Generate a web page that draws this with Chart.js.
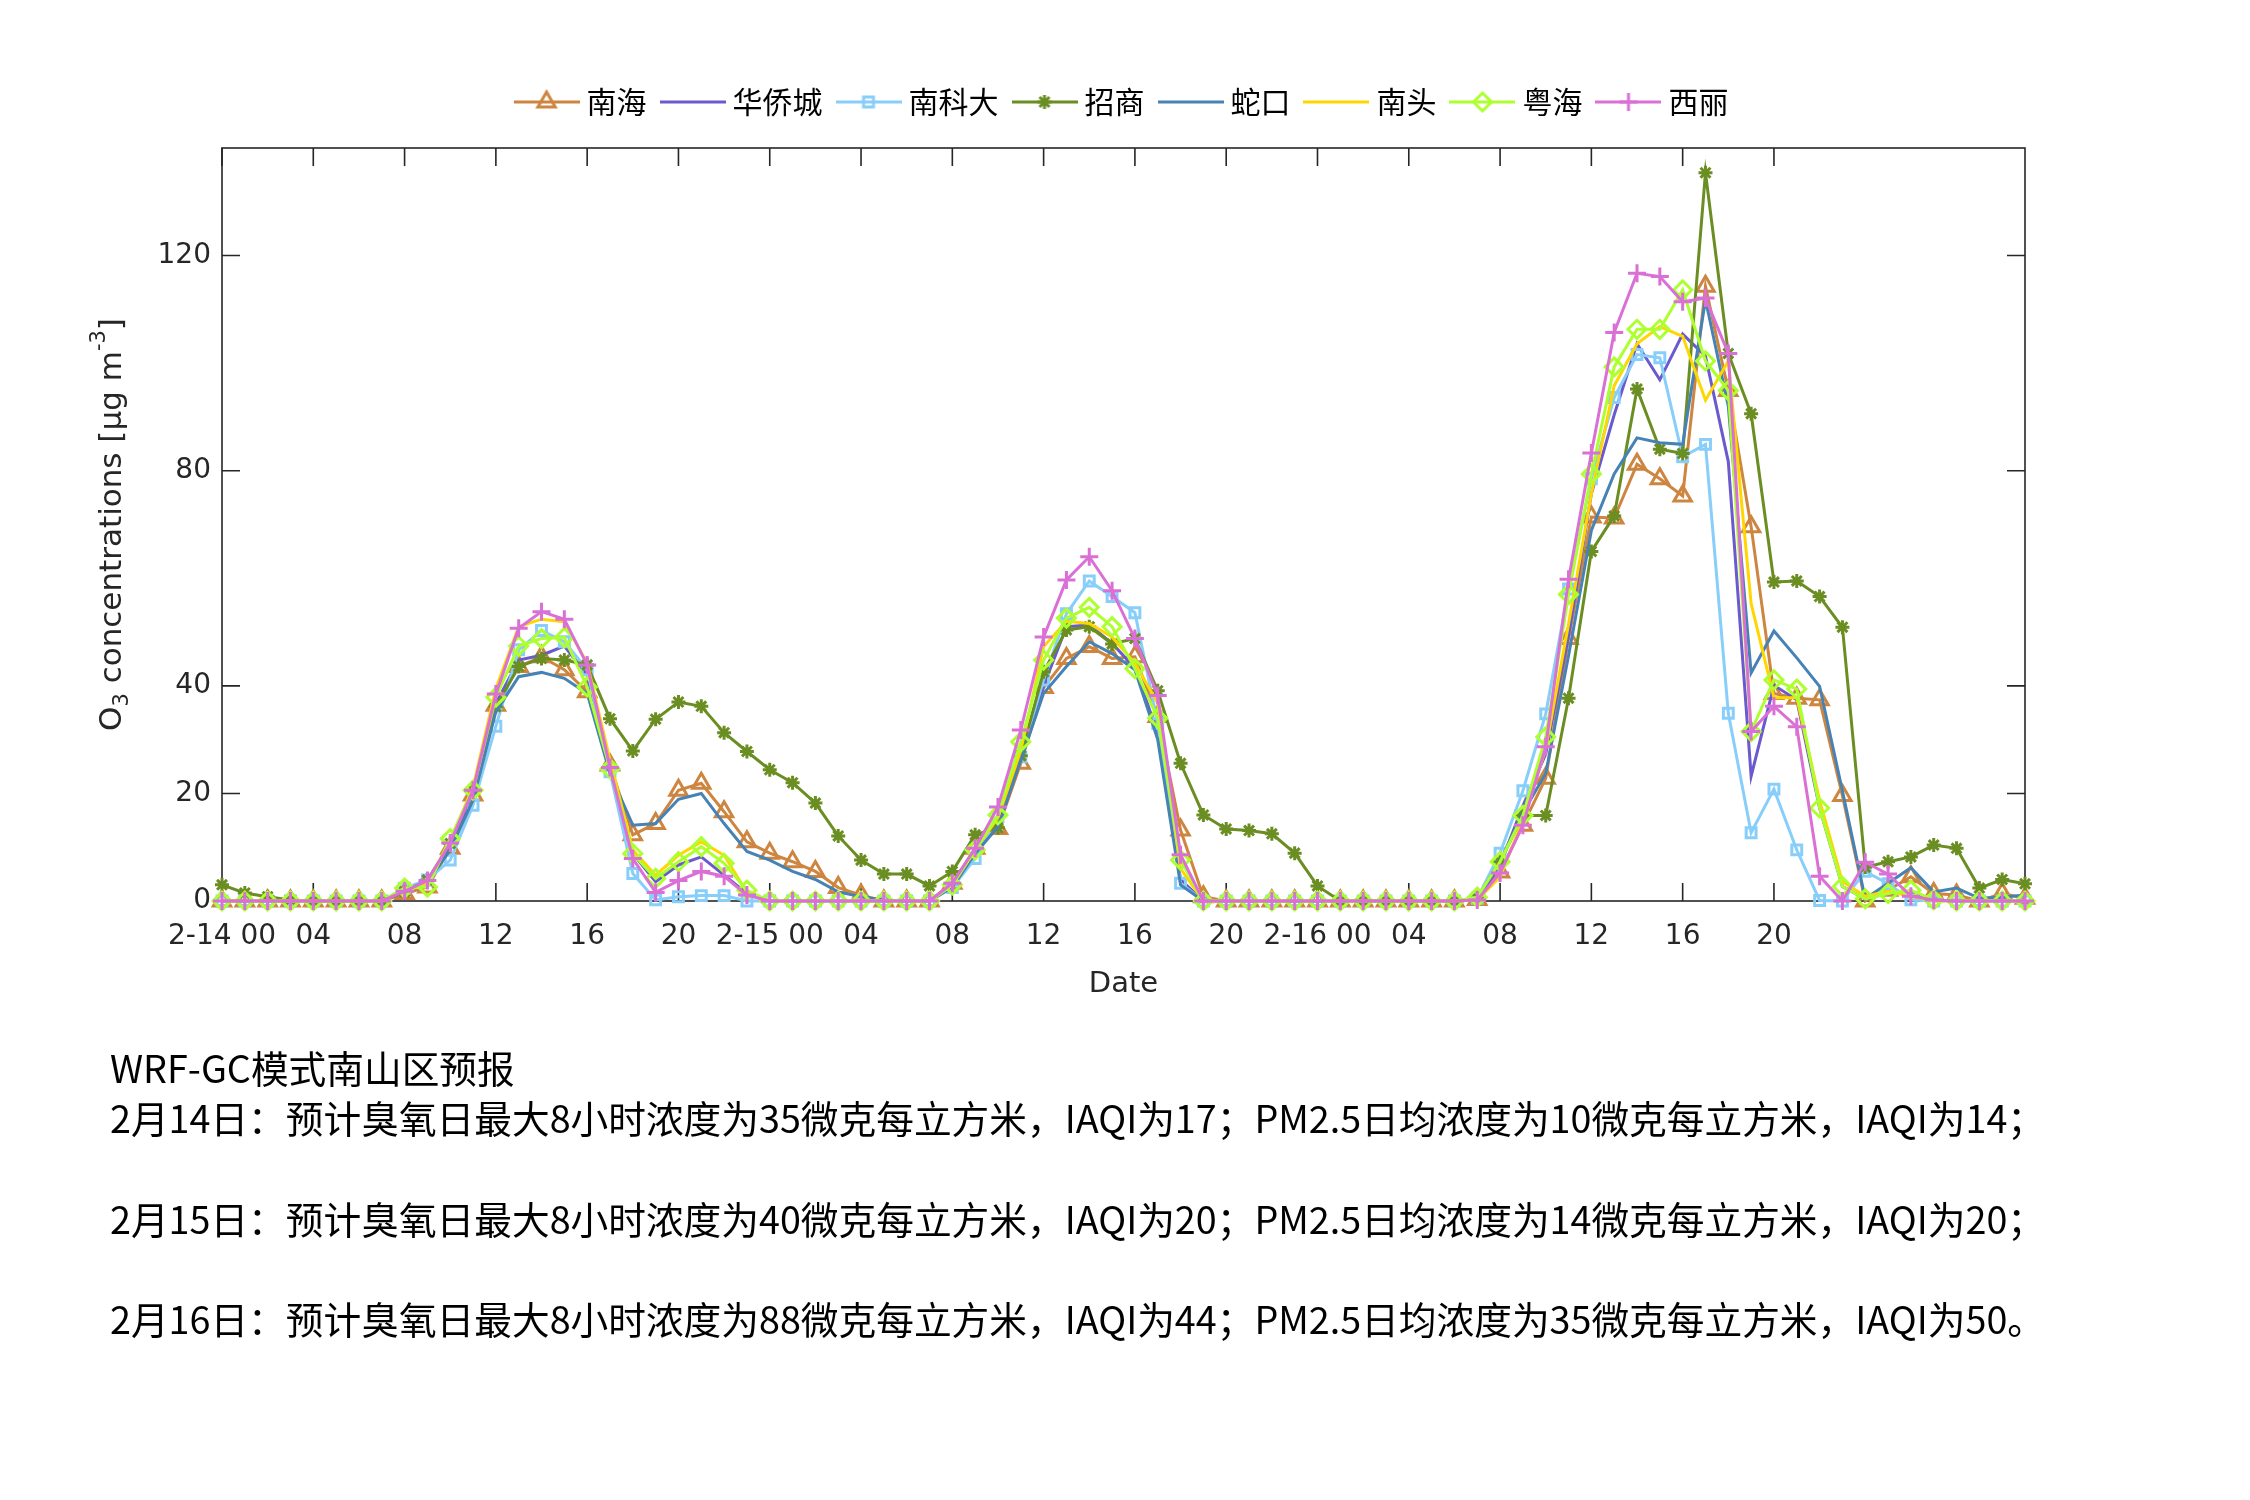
<!DOCTYPE html>
<html><head><meta charset="utf-8">
<script src="https://cdn.jsdelivr.net/npm/chart.js@4.4.0/dist/chart.umd.min.js"></script>
<style>
html,body{margin:0;padding:0;background:#fff;}
#wrap{position:relative;width:2250px;height:1500px;background:#fff;}
#c{position:absolute;left:0;top:0;}
#note{position:absolute;left:110px;top:1042px;font-family:'Noto Sans CJK SC';font-size:37.7px;line-height:50.3px;color:#000;white-space:pre;}
</style></head><body>
<div id="wrap"><canvas id="c" width="2250" height="1500"></canvas>
<div id="note">WRF-GC模式南山区预报
2月14日：预计臭氧日最大8小时浓度为35微克每立方米，IAQI为17；PM2.5日均浓度为10微克每立方米，IAQI为14；

2月15日：预计臭氧日最大8小时浓度为40微克每立方米，IAQI为20；PM2.5日均浓度为14微克每立方米，IAQI为20；

2月16日：预计臭氧日最大8小时浓度为88微克每立方米，IAQI为44；PM2.5日均浓度为35微克每立方米，IAQI为50。</div></div>
<script>
// ---- data ----
const hours = [0,1,2,3,4,5,6,7,8,9,10,11,12,13,14,15,16,17,18,19,20,21,22,23,
  24,25,26,27,28,29,30,31,32,33,34,35,36,37,38,39,40,41,42,43,44,45,46,47,
  48,49,50,51,52,53,54,55,56,57,58,59,60,61,62,63,64,65,66,67,68,69,70,71,
  72,73,74,75,76,77,78,79];
const xTickVals = [0,4,8,12,16,20,24,28,32,36,40,44,48,52,56,60,64,68];
const xTickLabels = ['2-14 00','04','08','12','16','20','2-15 00','04','08','12','16','20','2-16 00','04','08','12','16','20'];
const yTickVals = [0,20,40,80,120];
const seriesNames = ['南海','华侨城','南科大','招商','蛇口','南头','粤海','西丽'];

const nanhai = [0,0,0,0,0,0,0,0,
  1.4,2.6,9.8,19.7,36.4,43.6,45.4,43.0,
  38.9,25.3,12.3,14.4,20.6,21.9,16.6,11.0,
  8.9,7.3,5.5,2.5,1.1,0,0,0,
  3.3,9.8,13.5,25.6,39.7,45.1,47.3,45.1,
  45.4,34.3,13.2,0.8,0,0,0,0,
  0,0,0,0,0,0,0,0.3,
  5.4,14.1,22.8,48.8,71.4,71.2,81.2,78.5,
  75.3,114.3,94.9,69.6,38.6,37.7,37.4,19.6,
  0,2.0,4.5,1.4,1.1,0,1.4,0.5];
const huaqiaocheng = [0,0,0,0,0,0,0,0,
  1.7,3.6,10.4,20.0,36.7,44.8,45.7,47.4,
  42.0,25.0,8.8,3.6,6.7,8.2,4.8,1.4,
  0,0,0,0,0,0,0,0,
  3.0,9.0,15.0,27.5,40.0,51.0,51.3,47.9,
  43.3,31.2,4.0,0,0,0,0,0,
  0,0,0,0,0,0,0,0.3,
  6.7,17.7,27.3,49.3,75.7,90.4,103.6,96.9,
  105.4,101.3,81.7,23.2,40.1,37.4,17.3,2.7,
  0.4,1.5,1.5,0.2,0,0,0,0];
const nankeda = [0,0,0,0,0,0,0,0,
  2.4,3.9,7.6,17.8,32.5,46.7,50.3,48.2,
  43.0,24.0,5.1,0.2,0.8,1.0,1.0,0,
  0,0,0,0,0,0,0,0,
  2.5,7.9,15.7,26.8,41.1,53.4,59.5,56.6,
  53.6,33.0,3.3,0,0,0,0,0,
  0,0,0,0,0,0,0,0.5,
  8.9,20.5,34.8,58.0,78.5,93.6,101.6,101.0,
  82.6,84.9,34.9,12.7,20.8,9.5,0.1,0,
  5.5,3.2,0.2,0,0,0,0,0];
const zhaoshang = [3.0,1.5,0.8,0.2,0,0,0,0,
  1.7,3.9,10.7,20.6,36.1,43.6,45.1,44.8,
  43.9,33.9,27.9,33.8,37.0,36.2,31.3,27.8,
  24.4,22.0,18.2,12.1,7.6,5.0,5.0,2.8,
  5.5,12.3,13.6,27.0,42.6,50.4,51.0,47.8,
  48.8,39.1,25.6,16.0,13.4,13.1,12.5,8.9,
  2.8,0,0,0,0,0,0,0.5,
  7.3,15.9,15.9,37.7,65.0,71.6,95.2,84.0,
  83.2,135.4,101.8,90.6,59.3,59.5,56.6,50.9,
  6.3,7.3,8.2,10.4,9.8,2.4,4.0,3.2];
const shekou = [0,0,0,0,0,0,0,0,
  2.0,3.6,9.5,18.8,35.2,41.7,42.5,41.4,
  38.6,23.7,14.1,14.4,18.9,20.0,14.4,9.2,
  7.6,5.5,4.0,1.7,0.8,0.2,0,0,
  2.6,8.8,13.8,26.2,38.6,43.6,48.2,46.0,
  43.0,30.0,3.0,0,0,0,0,0,
  0,0,0,0,0,0,0,0.5,
  7.3,16.4,23.7,45.6,68.9,79.4,86.1,85.2,
  84.9,111.8,92.0,42.4,50.2,45.2,39.9,20.5,
  0.4,3.3,6.2,1.7,2.4,0.5,0.7,1.1];
const nantou = [0,0,0,0,0,0,0,0,
  2.0,3.3,11.3,21.2,39.5,51.0,52.4,51.9,
  44.2,26.2,9.5,4.8,8.5,11.0,8.5,1.6,
  0,0,0,0,0,0,0,0,
  3.0,9.5,15.5,28.0,47.3,52.0,51.6,49.1,
  44.2,36.8,6.0,0,0,0,0,0,
  0,0,0,0,0,0,0,0.2,
  4.5,15.0,28.3,51.5,75.7,95.8,103.6,106.8,
  105.0,93.1,100.4,55.3,37.8,37.8,18.7,3.6,
  0.9,1.8,0.9,0,0,0,0,0];
const yuehai = [0,0,0,0,0,0,0,0,
  2.4,2.6,11.6,20.6,37.9,47.4,48.8,49.0,
  39.8,24.6,8.8,4.2,7.3,10.1,7.0,2.0,
  0,0,0,0,0,0,0,0,
  3.0,9.5,16.0,29.6,44.8,52.6,54.6,51.0,
  43.2,34.0,7.6,0,0,0,0,0,
  0,0,0,0,0,0,0,0.7,
  7.3,15.9,30.5,57.0,79.4,99.3,106.3,106.3,
  113.6,100.4,94.9,31.5,41.1,39.4,17.3,2.7,
  0.4,1.4,2.0,0.2,0,0,0,0];
const xili = [0,0,0,0,0,0,0,0,
  1.8,3.8,10.8,20.6,38.5,50.7,53.8,52.4,
  43.9,24.8,7.9,1.6,3.8,5.5,4.6,1.1,
  0,0,0,0,0,0,0,0,
  3.3,9.8,17.5,31.8,49.1,59.7,64.0,57.7,
  48.8,38.2,8.6,0,0,0,0,0,
  0,0,0,0,0,0,0,0.2,
  5.2,14.1,28.7,59.8,83.3,105.7,116.7,116.1,
  111.4,112.1,101.8,31.5,36.2,32.4,4.6,0,
  7.2,5.0,0.9,0.2,0,0,0,0];

const seriesValues = [nanhai, huaqiaocheng, nankeda, zhaoshang, shekou, nantou, yuehai, xili];
const seriesColors = ['#CD853F','#6A5ACD','#87CEFA','#6B8E23','#4682B4','#FFD700','#ADFF2F','#DA70D6'];
const seriesMarkers = ['triangle',false,'rect','star',false,false,'rectRot','cross'];
const markerRadius = {triangle:10, rect:7, star:7, rectRot:9, cross:9};

function drawMarker(g, style, x, y, r, color) {
  g.save(); g.strokeStyle = color; g.lineWidth = 3; g.beginPath();
  if (style === 'triangle') {
    g.moveTo(x, y - r); g.lineTo(x + r*Math.sin(Math.PI*2/3), y - r*Math.cos(Math.PI*2/3));
    g.lineTo(x + r*Math.sin(Math.PI*4/3), y - r*Math.cos(Math.PI*4/3)); g.closePath();
  } else if (style === 'rect') {
    const s = r*Math.SQRT1_2; g.rect(x - s, y - s, 2*s, 2*s);
  } else if (style === 'rectRot') {
    g.moveTo(x - r, y); g.lineTo(x, y - r); g.lineTo(x + r, y); g.lineTo(x, y + r); g.closePath();
  } else if (style === 'cross') {
    g.moveTo(x, y - r); g.lineTo(x, y + r); g.moveTo(x - r, y); g.lineTo(x + r, y);
  } else if (style === 'star') {
    g.moveTo(x, y - r); g.lineTo(x, y + r); g.moveTo(x - r, y); g.lineTo(x + r, y);
    const d = r*Math.SQRT1_2;
    g.moveTo(x - d, y - d); g.lineTo(x + d, y + d); g.moveTo(x + d, y - d); g.lineTo(x - d, y + d);
  }
  g.stroke(); g.restore();
}
function legendImage(color, style) {
  const c = document.createElement('canvas'); c.width = 66; c.height = 28;
  const g = c.getContext('2d');
  g.strokeStyle = color; g.lineWidth = 3;
  g.beginPath(); g.moveTo(0, 14); g.lineTo(66, 14); g.stroke();
  if (style) drawMarker(g, style, 33, 14, markerRadius[style], color);
  return c;
}
const legendImgs = seriesColors.map((c, i) => legendImage(c, seriesMarkers[i]));

const datasets = seriesNames.map((name, i) => ({
  label: name,
  data: hours.map((h, j) => ({x: h, y: seriesValues[i][j]})),
  borderColor: seriesColors[i],
  backgroundColor: seriesColors[i],
  borderWidth: 3,
  tension: 0,
  pointStyle: seriesMarkers[i] || 'circle',
  pointRadius: seriesMarkers[i] ? markerRadius[seriesMarkers[i]] : 0,
  pointBorderWidth: 3,
  pointBorderColor: seriesColors[i],
  pointBackgroundColor: 'rgba(0,0,0,0)',
  clip: false,
  order: 7 - i,
  xAxisID: 'x', yAxisID: 'y'
}));

const AX = '#262626';
let topExtra = 6;
const frame = {
  id: 'frame',
  beforeDatasetsDraw(chart) {
    const {ctx, chartArea: a, scales: {x, y}} = chart;
    const L = 18;
    ctx.save();
    ctx.strokeStyle = AX; ctx.lineWidth = 1.6;
    ctx.beginPath();
    xTickVals.forEach(v => {
      const px = x.getPixelForValue(v);
      ctx.moveTo(px, a.bottom); ctx.lineTo(px, a.bottom - L);
      ctx.moveTo(px, a.top); ctx.lineTo(px, a.top + L);
    });
    yTickVals.forEach(v => {
      const py = y.getPixelForValue(v);
      ctx.moveTo(a.left, py); ctx.lineTo(a.left + L, py);
      ctx.moveTo(a.right, py); ctx.lineTo(a.right - L, py);
    });
    ctx.stroke();
    ctx.strokeRect(a.left, a.top, a.right - a.left, a.bottom - a.top);
    ctx.restore();
  },
  afterDraw(chart) {
    const ctx = chart.ctx, a = chart.chartArea;
    const big = '31px "DejaVu Sans"', small = '21px "DejaVu Sans"';
    const parts = [['O', big, 0], ['3', small, 10], [' concentrations [', big, 0], ['\u03bc', big, 0],
                   ['g m', big, 0], ['-3', small, -13], [']', big, 0]];
    ctx.save();
    ctx.fillStyle = AX;
    let total = 0;
    parts.forEach(p => { ctx.font = p[1]; p.w = ctx.measureText(p[0]).width; total += p.w; });
    ctx.translate(113, (a.top + a.bottom) / 2);
    ctx.rotate(-Math.PI / 2);
    ctx.textBaseline = 'middle'; ctx.textAlign = 'left';
    let px = -total / 2;
    parts.forEach(p => { ctx.font = p[1]; ctx.fillText(p[0], px, p[2]); px += p.w; });
    ctx.restore();
  }
};

const chart = new Chart(document.getElementById('c'), {
  type: 'line',
  data: {datasets},
  options: {
    responsive: false,
    devicePixelRatio: 1,
    animation: false,
    events: [],
    layout: {padding: {top: 66, bottom: 479, left: 0, right: 0}},
    plugins: {
      tooltip: {enabled: false},
      legend: {
        display: true, position: 'top', align: 'center',
        labels: {
          usePointStyle: true, pointStyleWidth: 50, padding: 21,
          color: '#000',
          font: {family: 'Noto Sans CJK SC', size: 30},
          generateLabels: (ch) => ch.data.datasets.map((d, i) => ({
            text: d.label, fillStyle: d.borderColor, strokeStyle: d.borderColor,
            lineWidth: 0, pointStyle: legendImgs[i], hidden: false, datasetIndex: i, fontColor: '#000'
          }))
        }
      }
    },
    scales: {
      x: {
        type: 'linear', position: 'bottom', min: 0, max: 79,
        afterBuildTicks: s => { s.ticks = xTickVals.map(v => ({value: v})); },
        afterFit: s => { s.height = 120; },
        grid: {display: false, drawTicks: false},
        border: {display: false},
        ticks: {
          autoSkip: false, maxRotation: 0, minRotation: 0, padding: 19, color: AX,
          font: {family: 'DejaVu Sans', size: 28},
          callback: v => { const i = xTickVals.indexOf(v); return i >= 0 ? xTickLabels[i] : ''; }
        },
        title: {display: true, text: 'Date', color: AX, font: {family: 'DejaVu Sans', size: 29}, padding: {top: 0, bottom: 19}}
      },
      xTop: {
        type: 'linear', position: 'top', min: 0, max: 79, display: true,
        grid: {display: false, drawTicks: false}, border: {display: false},
        ticks: {display: false},
        afterFit: s => { s.height = topExtra; }
      },
      y: {
        type: 'linear', position: 'left', min: 0, max: 140,
        afterBuildTicks: s => { s.ticks = yTickVals.map(v => ({value: v})); },
        afterFit: s => { s.width = 222; },
        grid: {display: false, drawTicks: false},
        border: {display: false},
        ticks: {padding: 11, color: AX, font: {family: 'DejaVu Sans', size: 28}}
      },
      yRight: {
        type: 'linear', position: 'right', min: 0, max: 140, display: true,
        grid: {display: false, drawTicks: false}, border: {display: false},
        ticks: {display: false},
        afterFit: s => { s.width = 225; }
      }
    }
  },
  plugins: [frame]
});
const gap = 148 - chart.chartArea.top;
if (Math.abs(gap) > 0.5) { topExtra = Math.max(0, topExtra + gap); chart.update(); }
</script>
</body></html>
